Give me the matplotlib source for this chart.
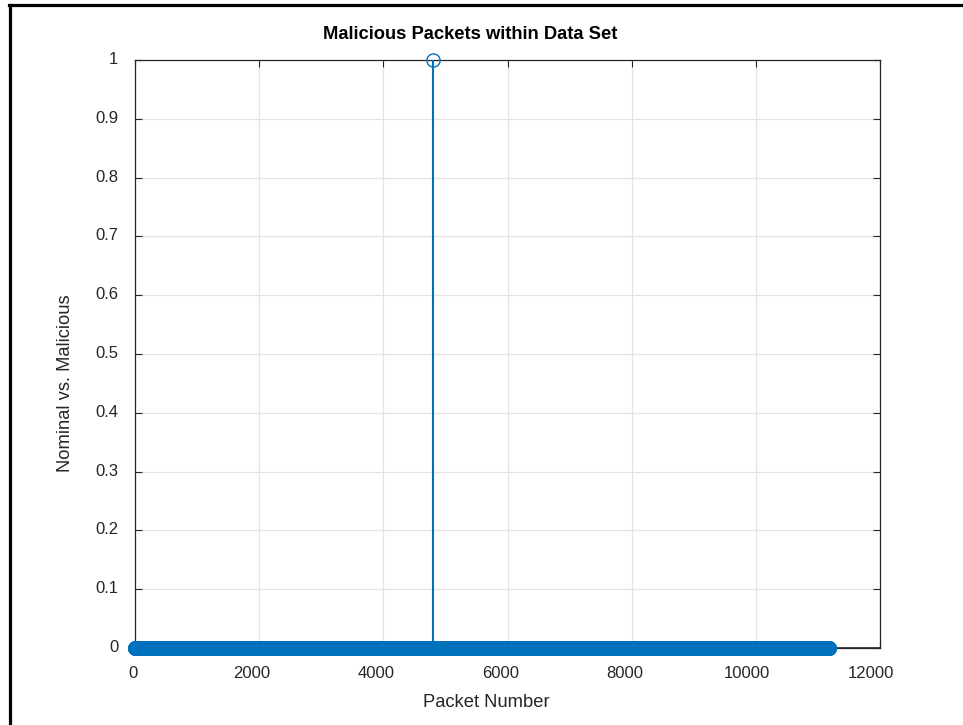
import numpy as np
import matplotlib
matplotlib.use('Agg')
import matplotlib.pyplot as plt
import matplotlib.transforms as mtransforms
from matplotlib.lines import Line2D

# data: every packet is nominal (0) except one
packet_count = 11180
malicious_packets = [4795]
y_ticks = [0, 0.1, 0.2, 0.3, 0.4, 0.5, 0.6, 0.7, 0.8, 0.9, 1]
y_tick_labels = ['0', '0.1', '0.2', '0.3', '0.4', '0.5', '0.6', '0.7', '0.8', '0.9', '1']
x_ticks = [0, 2000, 4000, 6000, 8000, 10000, 12000]

packet_number = np.arange(1, packet_count + 1)
label = np.zeros(packet_count)
label[np.array(malicious_packets) - 1] = 1

W, H = 963, 725
plt.rcParams['font.family'] = ['Liberation Sans', 'DejaVu Sans']
fig = plt.figure(figsize=(W / 100, H / 100), dpi=100)
ax = fig.add_axes([135 / W, 1 - 648 / H, (880 - 135) / W, (648 - 60) / H])

blue = '#0072BD'
dark = '#262626'

# stems only where the value is non zero, markers everywhere
for xv, yv in zip(packet_number, label):
    if yv != 0:
        ax.plot([xv, xv], [0, yv], color=blue, lw=1.5, zorder=3)
ax.axhline(0, color=dark, lw=1.2, zorder=4)
ax.plot(packet_number, label, ls='none', marker='o', markersize=9.5,
        markerfacecolor='none', markeredgecolor=blue, markeredgewidth=1.0,
        clip_on=False, zorder=5)

ax.set_xlim(0, 12000)
ax.set_ylim(0, 1)
ax.set_xticks(x_ticks)
ax.set_xticklabels([str(t) for t in x_ticks])
ax.set_yticks(y_ticks)
ax.set_yticklabels(y_tick_labels)
ax.tick_params(direction='in', length=5, width=0.8, color=dark, labelcolor=dark,
               labelsize=12, top=True, right=True)
ax.tick_params(axis='x', pad=13)
ax.tick_params(axis='y', pad=12)
ax.grid(True, color='#e3e3e3', lw=0.9)
ax.set_axisbelow(True)
for sp in ax.spines.values():
    sp.set_color(dark)
    sp.set_linewidth(0.9)

# the reference renders tick labels a little left of / above their ticks
for t in ax.get_xticklabels():
    shift = -0.2 * 9.2 * len(t.get_text()) / 100
    t.set_transform(t.get_transform() + mtransforms.ScaledTranslation(shift, 0, fig.dpi_scale_trans))
for t in ax.get_yticklabels():
    t.set_transform(t.get_transform() + mtransforms.ScaledTranslation(0, 0.02, fig.dpi_scale_trans))

fig.text(470 / W, 1 - 39 / H, 'Malicious Packets within Data Set', ha='center',
         va='baseline', fontsize=13.2, fontweight='bold', color='black')
fig.text(486 / W, 1 - 707 / H, 'Packet Number', ha='center', va='baseline',
         fontsize=13.2, color=dark)
fig.text(65 / W, 1 - 383 / H, 'Nominal vs. Malicious', ha='center', va='center',
         rotation=90, fontsize=13.2, color=dark)

# outer frame, only left and top edges show in the picture
fig.add_artist(Line2D([9.5 / W, 9.5 / W], [0, 1 - 5 / H], color='black', lw=2.3,
                      transform=fig.transFigure))
fig.add_artist(Line2D([8.5 / W, 1], [1 - 5 / H, 1 - 5 / H], color='black', lw=2.3,
                      transform=fig.transFigure))

fig.savefig('out.png', dpi=100)
